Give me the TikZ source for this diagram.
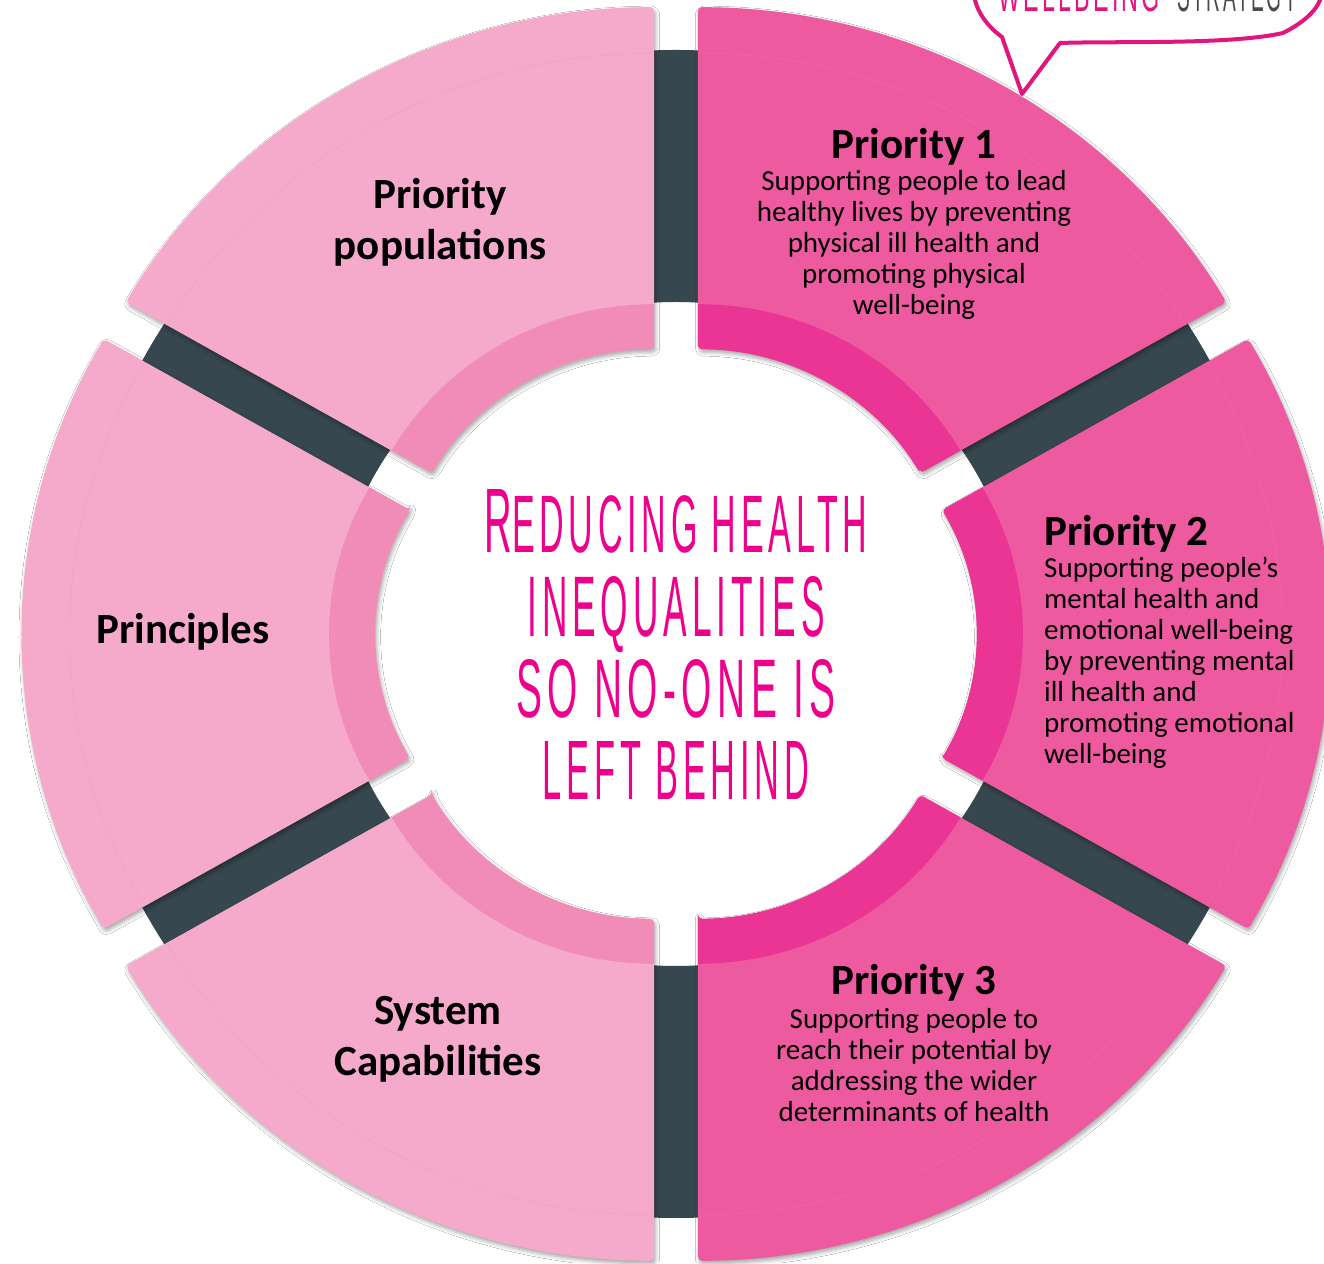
\documentclass[tikz,border=0pt]{standalone}
\usepackage{fontspec}
\usepackage{graphicx}
\setmainfont{Carlito}
\newfontfamily\handfont[LetterSpace=14]{Liberation Sans}
\usetikzlibrary{shadows.blur}
\definecolor{lightseg}{HTML}{F5A9CB}
\definecolor{lightband}{HTML}{F18BB8}
\definecolor{darkseg}{HTML}{EE5AA0}
\definecolor{darkband}{HTML}{EB3594}
\definecolor{ringgray}{HTML}{37474F}
\definecolor{magentatext}{HTML}{EC008C}
\definecolor{lightseam}{HTML}{EE9DC1}
\definecolor{darkseam}{HTML}{F36DAE}
\definecolor{bubblepink}{HTML}{E0167D}
\definecolor{bubblegray}{HTML}{4A4A4A}
\def\segShift{42.5}
\def\segRout{590}
\def\segRseam{544}
\def\segRband{293}
\def\segRin{248}
\newcommand{\segpath}[1]{(#1:\segRin) -- (#1:\segRout) arc[start angle=#1, end angle={#1+60}, radius=\segRout] -- ({#1+60}:\segRin) arc[start angle={#1+60}, end angle=#1, radius=\segRin] -- cycle}
\newcommand{\ringseg}[4]{%
  \begin{scope}[shift={({#1+30}:\segShift)}]
    \path[fill=#2, rounded corners=4pt, blur shadow={shadow xshift=1.5pt, shadow yshift=-3pt, shadow blur radius=4pt, shadow opacity=35}] \segpath{#1};
    \begin{scope}
      \clip[rounded corners=4pt] \segpath{#1};
      \fill[#3] (0,0) circle[radius=\segRband];
      \draw[#4, line width=0.6pt, opacity=0.5] (0,0) circle[radius=\segRseam];
    \end{scope}
  \end{scope}}
\tikzset{
  bodytext/.style={font=\fontsize{29}{31}\selectfont, text=black, inner sep=0pt},
  titletext/.style={font=\fontsize{43}{51}\selectfont\bfseries, text=black, inner sep=0pt},
  handtext/.style={text=magentatext, inner sep=0pt, anchor=base}
}
\begin{document}
\begin{tikzpicture}[x=1pt,y=1pt]
\useasboundingbox (0,0) rectangle (1324,1263);
\fill[white] (0,0) rectangle (1324,1263);
\clip (0,0) rectangle (1324,1263);
% ring and segments
\begin{scope}[shift={(676,629)}, xscale=1.034]
  \fill[ringgray, even odd rule] (0,0) circle[radius=584] (0,0) circle[radius=332];
  \ringseg{30}{darkseg}{darkband}{darkseam}
  \ringseg{90}{lightseg}{lightband}{lightseam}
  \ringseg{150}{lightseg}{lightband}{lightseam}
  \ringseg{210}{lightseg}{lightband}{lightseam}
  \ringseg{270}{darkseg}{darkband}{darkseam}
  \ringseg{330}{darkseg}{darkband}{darkseam}
\end{scope}
% speech bubble (cut off at top)
\draw[bubblepink, line width=4pt, line cap=round, line join=round]
  (975,1263) .. controls (978,1250) and (988,1236) .. (1002,1226) -- (1022,1169) -- (1060,1220)
  .. controls (1120,1222) and (1230,1218) .. (1283,1230) .. controls (1303,1240) and (1316,1252) .. (1320,1263);
\node[anchor=base, inner sep=0pt, text=bubblepink] (wb) at (1079,1251) {\resizebox{162pt}{34pt}{\handfont WELLBEING}};
\node[anchor=base, inner sep=0pt, text=bubblegray] (st) at (1237,1251) {\resizebox{120pt}{34pt}{\handfont STRATEGY}};
% centre text
\node[handtext] (c1) at (676,710) {\resizebox{383pt}{63pt}{\handfont\fontsize{20}{20}\selectfont R{\fontsize{17.8}{20}\selectfont EDUCING HEALTH}}};
\node[handtext] (c2) at (676,626) {\resizebox{297pt}{60pt}{\handfont INEQUALITIES}};
\node[handtext] (c3) at (676,545) {\resizebox{319pt}{58pt}{\handfont SO NO-ONE IS}};
\node[handtext] (c4) at (676,463) {\resizebox{267pt}{58pt}{\handfont LEFT BEHIND}};
% segment labels
\node[titletext, anchor=base] (p1t) at (914,1104) {Priority 1};
\node[bodytext, align=center] (p1b) at (914,1018) {Supporting people to lead\\healthy lives by preventing\\physical ill health and\\promoting physical\\well-being};
\node[titletext, anchor=base west] (p2t) at (1044,717) {Priority 2};
\node[bodytext, align=left, anchor=west] (p2b) at (1044,600) {Supporting people’s\\mental health and\\emotional well-being\\by preventing mental\\ill health and\\promoting emotional\\well-being};
\node[titletext, anchor=base] (p3t) at (914,268) {Priority 3};
\node[bodytext, align=center] (p3b) at (914,198) {Supporting people to\\reach their potential by\\addressing the wider\\determinants of health};
\node[titletext, align=center] (pp) at (440,1041) {Priority\\populations};
\node[titletext, anchor=base] (pr) at (183,619) {Principles};
\node[titletext, align=center] (sc) at (438,223.5) {System\\Capabilities};
\end{tikzpicture}
\end{document}
